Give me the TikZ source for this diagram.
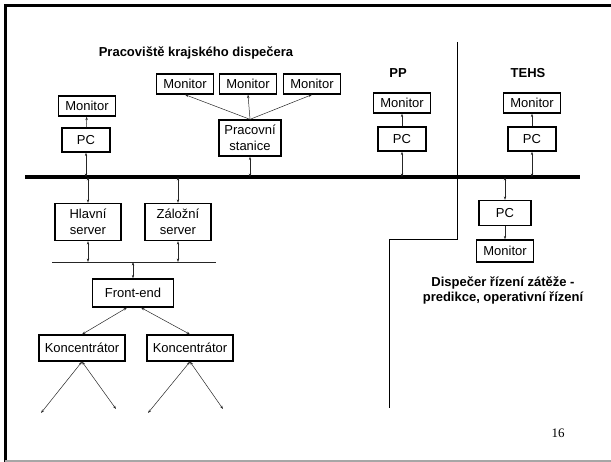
\documentclass[tikz,border=0pt]{standalone}
\usepackage{fontspec}
\setmainfont{Liberation Sans}
\newfontfamily\pagefont{Liberation Serif}
\usetikzlibrary{arrows.meta}
\tikzset{
  box/.style={draw,line width=1.3pt,font=\fontsize{13}{16}\selectfont,inner sep=1pt,align=center},
  mon/.style={box,minimum width=57pt,minimum height=20pt},
  pc/.style={box,minimum width=48pt,minimum height=24pt},
  srv/.style={box,minimum width=66pt,minimum height=37pt},
  konc/.style={box,minimum width=86pt,minimum height=26pt},
  head/.style={font=\bfseries\fontsize{13}{15}\selectfont,align=center},
  link/.style={line width=0.5pt,black!85},
  >={Stealth[length=3.5pt,width=2.4pt]}
}
\begin{document}
\begin{tikzpicture}[x=1pt,y=-1pt]
\useasboundingbox (0,0) rectangle (611,462);
\draw[line width=3pt] (5,462)--(5,6)--(611,6);
\draw[black!35,line width=1.5pt] (5,461)--(611,461);
\node[head] (krajsky) at (196,53) {Pracoviště krajského dispečera};
\node[head] (pp) at (398,73) {PP};
\node[head] (tehs) at (528,73) {TEHS};
\node[mon] (mon1) at (185,84) {Monitor};
\node[mon] (mon2) at (248,84) {Monitor};
\node[mon] (mon3) at (312,84) {Monitor};
\node[box,minimum width=62pt,minimum height=36pt] (stanice) at (250,138) {Pracovní\\stanice};
\node[mon] (monL) at (87,106) {Monitor};
\node[pc] (pcL) at (86,140) {PC};
\node[mon] (monPP) at (402,103) {Monitor};
\node[pc] (pcPP) at (402,139) {PC};
\node[mon] (monT) at (532,103) {Monitor};
\node[pc] (pcT) at (532,139) {PC};
\coordinate (busL) at (25,177);
\coordinate (busR) at (580,177);
\draw[line width=4pt] (busL)--(busR);
\draw[link,->] (stanice.north)--(mon1.south);
\draw[link,->] (stanice.north)--(mon2.south);
\draw[link,->] (stanice.north)--(mon3.south);
\draw[link,->] (pcL)--(monL);
\draw[link,->] (pcPP)--(monPP);
\draw[link,->] (pcT)--(monT);
\draw[link,<->] (pcL.south)--(pcL.south |- busL);
\draw[link,<->] (stanice.south)--(stanice.south |- busL);
\draw[link,<->] (pcPP.south)--(pcPP.south |- busL);
\draw[link,<->] (pcT.south)--(pcT.south |- busL);
\node[srv] (hlavni) at (88,222) {Hlavní\\server};
\node[srv] (zalozni) at (178,222) {Záložní\\server};
\coordinate (lanL) at (52,262);
\coordinate (lanR) at (216,262);
\draw[link] (lanL)--(lanR);
\draw[link,<->] (hlavni.north)--(hlavni.north |- busL);
\draw[link,<->] (zalozni.north)--(zalozni.north |- busL);
\draw[link,<->] (hlavni.south)--(hlavni.south |- lanL);
\draw[link,<->] (zalozni.south)--(zalozni.south |- lanL);
\node[box,minimum width=81pt,minimum height=28pt] (frontend) at (133,293) {Front-end};
\draw[link,<->] (frontend.north)--(frontend.north |- lanL);
\node[konc] (konc1) at (82,348) {Koncentrátor};
\node[konc] (konc2) at (190,348) {Koncentrátor};
\draw[link,<->] ([xshift=-6pt]frontend.south)--(konc1.north);
\draw[link,<->] ([xshift=8pt]frontend.south)--(konc2.north);
\coordinate (k1a) at (41,413);
\coordinate (k1b) at (116,409);
\coordinate (k2a) at (148,413);
\coordinate (k2b) at (223,409);
\draw[link,<->] (konc1.south)--(k1a);
\draw[link,<->] (konc1.south)--(k1b);
\draw[link,<->] (konc2.south)--(k2a);
\draw[link,<->] (konc2.south)--(k2b);
\node[pc,minimum width=52pt,minimum height=25pt] (pcR) at (505,213) {PC};
\node[mon,minimum height=22pt] (monR) at (505,251) {Monitor};
\draw[link,<->] (pcR.north)--(pcR.north |- busL);
\draw[link,->] (pcR)--(monR);
\node[head] (dispecer) at (503,290) {Dispečer řízení zátěže -\\predikce, operativní řízení};
\draw[line width=0.6pt] (457,42)--(457,239)--(389,239)--(389,408);
\node (page) at (558,433) {\pagefont\fontsize{13}{15}\selectfont 16};
\end{tikzpicture}
\end{document}
